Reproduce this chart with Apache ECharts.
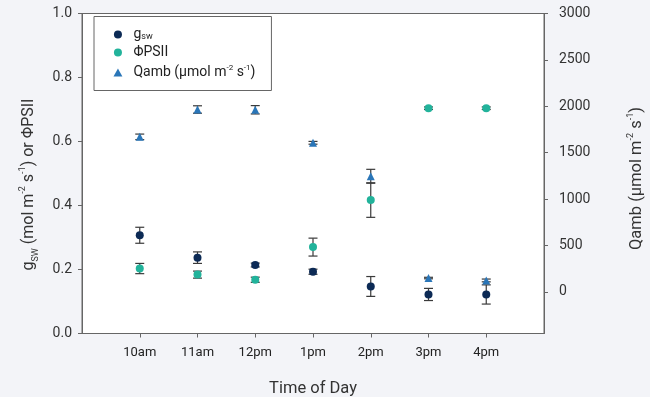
<!DOCTYPE html>
<html>
<head>
<meta charset="utf-8">
<script src="https://cdn.jsdelivr.net/npm/echarts@6/dist/echarts.min.js"></script>
<style>
html,body{margin:0;padding:0;background:#f3f4f8;}
#chart{width:650px;height:397px;}
</style>
</head>
<body>
<div id="chart"></div>
<script>
// values
var times = ['10am', '11am', '12pm', '1pm', '2pm', '3pm', '4pm'];
var gsw = [0.307, 0.237, 0.214, 0.193, 0.147, 0.122, 0.122];
var gswErr = [0.025, 0.018, 0.006, 0.008, 0.031, 0.019, 0.03];
var phi = [0.203, 0.184, 0.168, 0.270, 0.417, 0.704, 0.704];
var phiErr = [0.016, 0.011, 0.008, 0.028, 0.054, 0.004, 0.004];
var qamb = [1670, 1965, 1962, 1606, 1245, 148, 122];
var qambErr = [30, 40, 45, 15, 75, 8, 15];
var rightTicks = [0, 500, 1000, 1500, 2000, 2500, 3000];

var myChart = echarts.init(document.getElementById('chart'));

function pts(vals) {
	var out = [];
	for (var i = 0; i < vals.length; i++) out.push([i + 1, vals[i]]);
	return out;
}
function bars(vals, errs) {
	var out = [];
	for (var i = 0; i < vals.length; i++) out.push([i + 1, vals[i] - errs[i], vals[i] + errs[i]]);
	return out;
}
// whisker drawing
function errRender(params, api) {
	var x = api.value(0);
	var lo = api.coord([x, api.value(1)]);
	var hi = api.coord([x, api.value(2)]);
	var w = 4.5;
	var st = {stroke: '#3a3a3a', lineWidth: 1.2};
	return {
		type: 'group',
		children: [
			{type: 'line', shape: {x1: lo[0], y1: lo[1], x2: hi[0], y2: hi[1]}, style: st},
			{type: 'line', shape: {x1: lo[0] - w, y1: lo[1], x2: lo[0] + w, y2: lo[1]}, style: st},
			{type: 'line', shape: {x1: hi[0] - w, y1: hi[1], x2: hi[0] + w, y2: hi[1]}, style: st}
		]
	};
}

var option = {
	backgroundColor: '#f3f4f8',
	textStyle: {fontFamily: 'Roboto'},
	grid: {
		left: 82, right: 106, top: 13.5, bottom: 63.5,
		outerBoundsMode: 'none',
		show: true, backgroundColor: '#fff', borderColor: '#666', borderWidth: 1
	},
	legend: {
		orient: 'vertical',
		left: 94, top: 16.5,
		padding: [11, 16, 11, 19.5],
		backgroundColor: '#fff',
		borderColor: '#666', borderWidth: 1,
		itemWidth: 21, itemHeight: 8, itemGap: 4,
		symbolKeepAspect: true,
		data: [
			{name: 'gsw', icon: 'circle'},
			{name: 'phi', icon: 'circle'},
			{name: 'qamb', icon: 'path://M5,0L10,9L0,9Z'}
		],
		formatter: function (name) {
			if (name == 'gsw') return '{t|g}{s|sw}';
			if (name == 'phi') return '{t|ΦPSII}';
			return '{t|Qamb (μmol m}{p|-2}{t| s}{p|-1}{t|)}';
		},
		textStyle: {
			color: '#222',
			rich: {
				t: {fontSize: 14, color: '#222', fontFamily: 'Roboto', lineHeight: 14},
				s: {fontSize: 9, color: '#222', fontFamily: 'Roboto', verticalAlign: 'bottom', lineHeight: 12},
				p: {fontSize: 8, color: '#222', fontFamily: 'Roboto', verticalAlign: 'top', lineHeight: 18}
			}
		}
	},
	xAxis: {
		type: 'value',
		min: 0, max: 8,
		name: 'Time of Day',
		nameLocation: 'middle',
		nameGap: 47,
		nameTextStyle: {color: '#333', fontSize: 16.5, fontFamily: 'Roboto'},
		axisLine: {lineStyle: {color: '#666'}},
		axisTick: {show: true, length: 4, lineStyle: {color: '#666'}, customValues: [1, 2, 3, 4, 5, 6, 7]},
		axisLabel: {
			color: '#222', fontSize: 13, fontFamily: 'Roboto', margin: 13,
			customValues: [1, 2, 3, 4, 5, 6, 7],
			formatter: function (v) { return times[v - 1] || ''; }
		},
		splitLine: {show: false}
	},
	yAxis: [{
		type: 'value',
		min: 0, max: 1, interval: 0.2,
		position: 'left',
		name: '{t|g}{s|SW}{t| (mol m}{p|-2}{t| s}{p|-1}{t|) or ΦPSII}',
		nameLocation: 'middle',
		nameRotate: 90,
		nameGap: 42,
		nameTextStyle: {
			padding: [0, 22, 0, 0],
			rich: {
				t: {fontSize: 16, color: '#333', fontFamily: 'Roboto', lineHeight: 19},
				s: {fontSize: 9, color: '#333', fontFamily: 'Roboto', verticalAlign: 'bottom', lineHeight: 15},
				p: {fontSize: 9, color: '#333', fontFamily: 'Roboto', verticalAlign: 'top', lineHeight: 22}
			}
		},
		axisLine: {show: true, lineStyle: {color: '#666'}},
		axisTick: {show: true, length: 4, lineStyle: {color: '#666'}},
		axisLabel: {
			color: '#333', fontSize: 14, fontFamily: 'Roboto', margin: 10,
			formatter: function (v) { return v.toFixed(1); }
		},
		splitLine: {show: false}
	}, {
		type: 'value',
		min: -450, max: 3000,
		position: 'right',
		name: '{t|Qamb (μmol m}{p|-2}{t| s}{p|-1}{t|)}',
		nameLocation: 'middle',
		nameRotate: 90,
		nameGap: 82,
		nameTextStyle: {
			padding: [0, 10, 0, 0],
			rich: {
				t: {fontSize: 16.5, color: '#333', fontFamily: 'Roboto', lineHeight: 19},
				p: {fontSize: 9, color: '#333', fontFamily: 'Roboto', verticalAlign: 'top', lineHeight: 22}
			}
		},
		axisLine: {show: true, lineStyle: {color: '#666'}},
		axisTick: {show: true, length: 4, lineStyle: {color: '#666'}, customValues: rightTicks},
		axisLabel: {
			color: '#333', fontSize: 14, fontFamily: 'Roboto', margin: 15,
			customValues: rightTicks,
			formatter: function (v) { return String(v); }
		},
		splitLine: {show: false}
	}],
	series: [
		{type: 'custom', renderItem: errRender, data: bars(gsw, gswErr), encode: {x: 0, y: [1, 2]}, z: 2, silent: true},
		{type: 'custom', renderItem: errRender, data: bars(phi, phiErr), encode: {x: 0, y: [1, 2]}, z: 2, silent: true},
		{type: 'custom', renderItem: errRender, yAxisIndex: 1, data: bars(qamb, qambErr), encode: {x: 0, y: [1, 2]}, z: 2, silent: true},
		{name: 'gsw', type: 'scatter', data: pts(gsw), symbol: 'circle', symbolSize: 8, itemStyle: {color: '#0c2a55', opacity: 1}, z: 3},
		{name: 'phi', type: 'scatter', data: pts(phi), symbol: 'circle', symbolSize: 8, itemStyle: {color: '#22b39b', opacity: 1}, z: 3},
		{name: 'qamb', type: 'scatter', yAxisIndex: 1, data: pts(qamb), symbol: 'triangle', symbolSize: 8, itemStyle: {color: '#2a76b8', opacity: 1}, z: 3}
	]
};
myChart.setOption(option);
</script>
</body>
</html>
